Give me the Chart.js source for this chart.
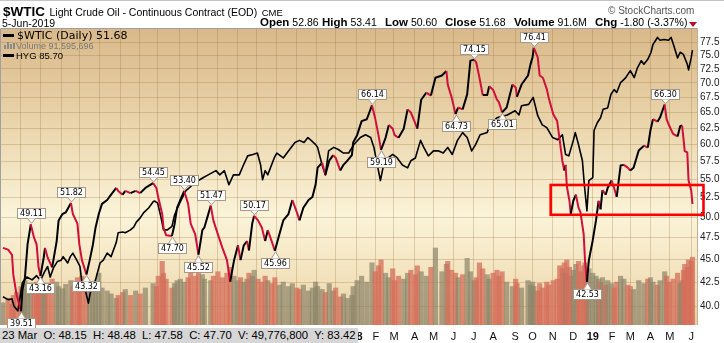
<!DOCTYPE html>
<html>
<head>
<meta charset="utf-8">
<title>$WTIC Light Crude Oil</title>
<script src="https://cdn.jsdelivr.net/npm/chart.js@4.4.1/dist/chart.umd.min.js"></script>
<style>
  body { margin: 0; background: #fff; }
  #wrap { position: relative; width: 724px; height: 343px; overflow: hidden; font-family: "Liberation Sans", Arial, sans-serif; color: #000; }
  #c { position: absolute; left: 0; top: 0; }
  .txt { position: absolute; white-space: pre; line-height: 1; }
  .q b { font-size: 11.5px; }
  .bar { position: absolute; bottom: 0; width: 2px; background: #8a8a8a; }
</style>
</head>
<body>
<div id="wrap">
  <canvas id="c" width="724" height="343"></canvas>
  <div style="position:absolute;left:0;top:0;width:724px;height:1px;background:#c4c4c4"></div>

  <!-- header -->
  <div class="txt" style="left:3px;top:3px;"><b style="font-size:13.5px">$WTIC</b> <span style="font-size:10.5px">Light Crude Oil - Continuous Contract (EOD)</span> <span style="font-size:9.5px">CME</span></div>
  <div class="txt" style="left:608px;top:6px;font-size:10px;color:#555;">© StockCharts.com</div>
  <div class="txt" style="left:2px;top:18px;font-size:10.5px;">5-Jun-2019</div>
  <div class="txt q" style="left:260px;top:17px;font-size:10.5px;"><b>Open</b> 52.86</div>
  <div class="txt q" style="left:322px;top:17px;font-size:10.5px;"><b>High</b> 53.41</div>
  <div class="txt q" style="left:385px;top:17px;font-size:10.5px;"><b>Low</b> 50.60</div>
  <div class="txt q" style="left:445px;top:17px;font-size:10.5px;"><b>Close</b> 51.68</div>
  <div class="txt q" style="left:514px;top:17px;font-size:10.5px;"><b>Volume</b> 91.6M</div>
  <div class="txt q" style="left:595px;top:17px;font-size:10.5px;"><b>Chg</b> -1.80 (-3.37%)</div>
  <div style="position:absolute;left:689px;top:22px;width:0;height:0;border-left:4px solid transparent;border-right:4px solid transparent;border-top:5px solid #b0102a;"></div>

  <!-- in-chart legend -->
  <div style="position:absolute;left:3px;top:34px;width:11px;height:3px;background:#000"></div>
  <div class="txt" style="left:17px;top:30px;font-family:'DejaVu Sans';font-size:11px;">$WTIC (Daily) 51.68</div>
  <div style="position:absolute;left:4px;top:42px;width:11px;height:7px;">
    <span class="bar" style="left:0;height:4px"></span><span class="bar" style="left:3px;height:7px"></span><span class="bar" style="left:6px;height:5px"></span><span class="bar" style="left:9px;height:6px"></span>
  </div>
  <div class="txt" style="left:16px;top:42px;font-size:9px;color:#777;">Volume 91,595,696</div>
  <div style="position:absolute;left:3px;top:54px;width:11px;height:3px;background:#000"></div>
  <div class="txt" style="left:16px;top:51px;font-size:9.5px;">HYG 85.70</div>

  <!-- hover readout strip -->
  <div class="txt" style="left:0;top:328px;width:356px;height:15px;line-height:15px;padding-left:2px;background:#d6d6d6;font-size:11.3px;">23 Mar  O: 48.15  H: 48.48  L: 47.58  C: 47.70  V: 49,776,800  Y: 83.42</div>
</div>

<script>
// WTIC closes (one row per month)
const wticDates = [
  '2016-07-05','2016-07-13','2016-07-19','2016-07-21','2016-07-26',
  '2016-08-02','2016-08-04','2016-08-08','2016-08-12','2016-08-17','2016-08-22','2016-08-26','2016-08-29',
  '2016-09-01','2016-09-06','2016-09-08','2016-09-12','2016-09-19','2016-09-26','2016-09-29',
  '2016-10-05','2016-10-10','2016-10-18','2016-10-21','2016-10-28','2016-10-31',
  '2016-11-04','2016-11-11','2016-11-16','2016-11-21','2016-11-25','2016-11-30',
  '2016-12-05','2016-12-13','2016-12-19','2016-12-27','2016-12-30',
  '2017-01-06','2017-01-10','2017-01-18','2017-01-26',
  '2017-02-02','2017-02-10','2017-02-22','2017-02-27',
  '2017-03-02','2017-03-08','2017-03-10','2017-03-14','2017-03-23','2017-03-27','2017-03-31',
  '2017-04-05','2017-04-11','2017-04-17','2017-04-21','2017-04-28',
  '2017-05-03','2017-05-09','2017-05-12','2017-05-22','2017-05-26',
  '2017-06-02','2017-06-09','2017-06-16','2017-06-21','2017-06-27',
  '2017-07-03','2017-07-07','2017-07-12','2017-07-17','2017-07-20','2017-07-25','2017-07-28',
  '2017-08-03','2017-08-09','2017-08-14','2017-08-18','2017-08-24','2017-08-29',
  '2017-09-05','2017-09-11','2017-09-19','2017-09-25',
  '2017-10-02','2017-10-06','2017-10-12','2017-10-20','2017-10-26','2017-10-31',
  '2017-11-03','2017-11-10','2017-11-15','2017-11-21','2017-11-27',
  '2017-12-01','2017-12-08','2017-12-13','2017-12-19','2017-12-26','2017-12-28',
  '2018-01-03','2018-01-10','2018-01-18','2018-01-26','2018-01-31',
  '2018-02-05','2018-02-09','2018-02-16','2018-02-21','2018-02-27',
  '2018-03-02','2018-03-08','2018-03-16','2018-03-22','2018-03-27',
  '2018-04-03','2018-04-06','2018-04-12','2018-04-20','2018-04-27',
  '2018-05-04','2018-05-14','2018-05-21','2018-05-23','2018-05-29',
  '2018-06-04','2018-06-08','2018-06-15','2018-06-22','2018-06-27',
  '2018-07-03','2018-07-06','2018-07-11','2018-07-16','2018-07-23','2018-07-26',
  '2018-08-01','2018-08-07','2018-08-10','2018-08-15','2018-08-22','2018-08-31',
  '2018-09-05','2018-09-07','2018-09-14','2018-09-24','2018-09-28',
  '2018-10-01','2018-10-03','2018-10-09','2018-10-12','2018-10-17','2018-10-23','2018-10-26',
  '2018-11-02','2018-11-08','2018-11-12','2018-11-16','2018-11-19','2018-11-21','2018-11-23','2018-11-27','2018-11-29',
  '2018-12-03','2018-12-07','2018-12-11','2018-12-14','2018-12-19','2018-12-21','2018-12-24','2018-12-27',
  '2019-01-02','2019-01-07','2019-01-11','2019-01-14','2019-01-17','2019-01-22','2019-01-25','2019-01-31',
  '2019-02-04','2019-02-08','2019-02-14','2019-02-19','2019-02-25',
  '2019-03-01','2019-03-06','2019-03-14','2019-03-22','2019-03-28',
  '2019-04-01','2019-04-05','2019-04-12','2019-04-16','2019-04-23','2019-04-26','2019-04-30',
  '2019-05-06','2019-05-13','2019-05-17','2019-05-20','2019-05-22','2019-05-24','2019-05-28','2019-05-30',
  '2019-06-03','2019-06-05'
];
const wticClose = [
  46.30, 46.10, 45.50, 43.30, 41.20,
  39.51, 41.60, 43.00, 46.70, 49.11, 47.50, 46.70, 44.10,
  43.16, 45.20, 46.30, 45.20, 44.10, 47.10, 49.60,
  50.40, 50.60, 51.82, 50.40, 49.20, 46.70,
  44.90, 43.32, 44.90, 46.70, 48.70, 50.40,
  51.70, 52.20, 52.90, 53.80, 53.40,
  52.90, 53.40, 53.10, 53.40,
  53.10, 53.80, 54.45, 53.80,
  52.50, 50.40, 48.70, 47.80, 47.70, 49.10, 51.20,
  52.20, 53.40, 51.70, 49.20, 47.90,
  45.52, 48.40, 48.70, 51.47, 49.60,
  47.90, 46.30, 44.90, 42.55, 44.90,
  46.60, 44.90, 46.60, 47.10, 46.00, 49.20, 50.17,
  49.60, 48.70, 47.10, 48.40, 47.10, 45.96,
  47.90, 49.60, 50.40, 52.20,
  50.60, 49.60, 51.20, 52.20, 52.60, 54.30,
  56.60, 57.30, 55.60, 57.60, 58.40,
  58.00, 56.20, 57.00, 57.60, 58.40, 60.30,
  61.40, 63.60, 63.90, 66.14, 64.00,
  61.40, 59.19, 61.00, 63.00, 62.40,
  61.40, 61.00, 62.40, 65.50, 65.00,
  63.20, 62.40, 67.10, 68.30, 67.80,
  70.90, 71.30, 72.10, 69.70, 67.50,
  64.73, 65.80, 65.50, 68.00, 74.00,
  74.15, 73.70, 70.90, 67.90, 67.90, 69.40,
  68.80, 67.10, 66.70, 65.01, 65.80, 69.70,
  69.20, 67.60, 69.70, 71.30, 73.40,
  74.60, 76.41, 74.60, 71.30, 70.90, 68.90, 67.40,
  64.70, 63.60, 60.60, 57.60, 56.20, 57.00, 54.00, 52.10, 50.40,
  52.10, 52.90, 51.20, 50.60, 47.90, 44.90, 42.53, 44.90,
  47.20, 49.60, 52.10, 51.00, 53.50, 52.90, 53.80, 54.80,
  53.80, 52.60, 56.90, 57.00, 56.60,
  56.20, 56.60, 59.10, 59.80, 59.50,
  62.10, 63.90, 63.50, 64.20, 66.30, 63.90, 62.90,
  61.60, 61.20, 62.80, 62.90, 61.00, 59.00, 58.80, 54.80,
  53.50, 51.68
];
// volume in millions, same dates as wticDates
const wticVolume = [
  30, 36, 28, 40, 44,
  52, 48, 60, 55, 50, 46, 58, 54,
  48, 44, 50, 56, 62, 58, 52,
  49, 55, 60, 52, 64, 58,
  66, 60, 54, 58, 50, 70,
  50, 46, 42, 36, 40,
  44, 48, 40, 46,
  42, 50, 56, 52,
  66, 86, 70, 62, 50, 56, 60,
  62, 58, 64, 70, 66,
  72, 68, 62, 60, 66,
  72, 64, 70, 78, 66,
  60, 64, 58, 62, 70, 66, 74,
  62, 58, 66, 60, 56, 64,
  54, 58, 52, 56,
  50, 48, 54, 46, 50, 58,
  52, 48, 44, 56, 46,
  50, 38, 42, 36, 40, 52,
  60, 66, 58, 84, 72,
  80, 88, 70, 64, 76,
  60, 66, 62, 70, 74,
  68, 80, 72, 66, 78,
  104, 72, 82, 86, 74,
  70, 64, 68, 90, 72,
  60, 64, 84, 76, 68, 62,
  70, 74, 66, 72, 58, 52,
  62, 56, 50, 60, 54,
  58, 52, 46, 56, 50, 58, 54,
  60, 62, 80, 76, 84, 70, 88, 78, 66,
  74, 82, 86, 72, 80, 84, 64, 76,
  70, 66, 62, 58, 64, 54, 60, 56,
  50, 58, 66, 62, 54,
  52, 48, 60, 56, 62,
  64, 58, 54, 60, 72, 66, 58,
  62, 70, 56, 60, 74, 82, 78, 88,
  86, 91.6
];

// HYG overlay (own hidden scale)
const hygDates = [
  '2016-07-05','2016-07-13','2016-07-19','2016-07-22','2016-07-28',
  '2016-08-04','2016-08-11','2016-08-19','2016-08-26',
  '2016-09-01','2016-09-07','2016-09-12','2016-09-16','2016-09-21','2016-09-27',
  '2016-10-03','2016-10-06','2016-10-13','2016-10-17','2016-10-21','2016-10-27',
  '2016-11-01','2016-11-04','2016-11-09','2016-11-14','2016-11-17','2016-11-25',
  '2016-12-02','2016-12-07','2016-12-13','2016-12-19','2016-12-27','2016-12-30',
  '2017-01-06','2017-01-10','2017-01-18','2017-01-23','2017-01-27',
  '2017-02-02','2017-02-07','2017-02-15','2017-02-22','2017-02-24',
  '2017-03-01','2017-03-06','2017-03-10','2017-03-16','2017-03-23','2017-03-27',
  '2017-04-03','2017-04-13','2017-04-24',
  '2017-05-03','2017-05-10','2017-05-18','2017-05-30',
  '2017-06-05','2017-06-12','2017-06-19','2017-06-26',
  '2017-07-05','2017-07-11','2017-07-18','2017-07-26',
  '2017-08-02','2017-08-07','2017-08-10','2017-08-14','2017-08-18','2017-08-28',
  '2017-09-01','2017-09-11','2017-09-19','2017-09-29',
  '2017-10-06','2017-10-13','2017-10-19','2017-10-24','2017-10-31',
  '2017-11-03','2017-11-10','2017-11-15','2017-11-20','2017-11-28',
  '2017-12-05','2017-12-13','2017-12-21','2017-12-29',
  '2018-01-08','2018-01-16','2018-01-24','2018-01-29',
  '2018-02-02','2018-02-08','2018-02-12','2018-02-20','2018-02-27',
  '2018-03-06','2018-03-14','2018-03-22','2018-03-27',
  '2018-04-03','2018-04-11','2018-04-16','2018-04-23',
  '2018-05-01','2018-05-09','2018-05-16','2018-05-23','2018-05-30',
  '2018-06-07','2018-06-15','2018-06-22','2018-06-29',
  '2018-07-05','2018-07-12','2018-07-23','2018-07-27',
  '2018-08-07','2018-08-15','2018-08-23',
  '2018-09-04','2018-09-10','2018-09-14','2018-09-25',
  '2018-10-02','2018-10-09','2018-10-16','2018-10-23',
  '2018-11-01','2018-11-09','2018-11-16','2018-11-21','2018-11-26',
  '2018-12-03','2018-12-06','2018-12-11','2018-12-17','2018-12-20','2018-12-24','2018-12-27',
  '2019-01-02','2019-01-04','2019-01-09','2019-01-14','2019-01-18','2019-01-25','2019-01-30',
  '2019-02-04','2019-02-08','2019-02-14','2019-02-22',
  '2019-03-01','2019-03-07','2019-03-12','2019-03-18','2019-03-22','2019-03-28',
  '2019-04-02','2019-04-05','2019-04-12','2019-04-16','2019-04-22','2019-04-29',
  '2019-05-03','2019-05-07','2019-05-13','2019-05-17','2019-05-22','2019-05-28','2019-05-30',
  '2019-06-03','2019-06-05'
];
const hygClose = [
  82.20, 82.16, 82.17, 82.07, 82.00,
  82.40, 82.48, 82.44, 82.50,
  82.43, 82.55, 82.63, 82.48, 82.61, 82.70,
  82.72, 82.77, 82.68, 82.77, 82.82, 82.72,
  82.63, 82.40, 82.30, 82.11, 82.26, 82.44,
  82.68, 82.72, 82.82, 82.77, 82.97, 83.11,
  83.12, 83.11, 83.15, 83.19, 83.26,
  83.32, 83.39, 83.46, 83.55, 83.56,
  83.53, 83.33, 83.15, 83.15, 83.20, 83.36,
  83.51, 83.70, 83.79,
  83.85, 83.89, 83.93, 83.99,
  83.93, 83.99, 83.79, 83.93,
  83.93, 84.06, 84.20, 84.22,
  84.24, 84.07, 83.86, 83.99, 83.93, 84.17,
  84.24, 84.17, 84.27, 84.39,
  84.42, 84.39, 84.46, 84.42, 84.36,
  84.32, 84.07, 83.93, 84.27, 84.32,
  84.29, 84.24, 84.24, 84.36,
  84.46, 84.50, 84.46, 84.32,
  84.13, 83.85, 84.03, 84.17, 84.22,
  84.17, 84.07, 84.03, 84.13,
  84.17, 84.42, 84.32, 84.20,
  84.27, 84.27, 84.24, 84.32, 84.22,
  84.42, 84.53, 84.46, 84.27,
  84.36, 84.50, 84.53, 84.64,
  84.74, 84.76, 84.78,
  84.84, 84.78, 84.91, 84.93,
  85.03, 84.77, 84.64, 84.60,
  84.46, 84.43, 84.50, 84.22, 84.20,
  84.42, 84.53, 84.36, 84.13, 83.79, 83.42, 83.85,
  83.89, 84.56, 84.67, 84.74, 84.86, 84.88, 85.07,
  85.14, 85.10, 85.24, 85.31,
  85.41, 85.31, 85.45, 85.55, 85.50, 85.57,
  85.67, 85.78, 85.88, 85.84, 85.85, 85.84,
  85.88, 85.77, 85.59, 85.67, 85.64, 85.50, 85.42,
  85.59, 85.70
];

// axis ticks
const monthTicks = [
  '2016-08-01','2016-09-01','2016-10-03','2016-11-01','2016-12-01',
  '2017-01-03','2017-02-01','2017-03-01','2017-04-03','2017-05-01','2017-06-01','2017-07-03','2017-08-01','2017-09-01','2017-10-02','2017-11-01','2017-12-01',
  '2018-01-02','2018-02-01','2018-03-01','2018-04-02','2018-05-01','2018-06-01','2018-07-02','2018-08-01','2018-09-04','2018-10-01','2018-11-01','2018-12-03',
  '2019-01-02','2019-02-01','2019-03-01','2019-04-01','2019-05-01','2019-06-03'
];
const monthLabels = [
  'A','S','O','N','D',
  '17','F','M','A','M','J','J','A','S','O','N','D',
  '18','F','M','A','M','J','J','A','S','O','N','D',
  '19','F','M','A','M','J'
];
const priceTicks = [40, 42.5, 45, 47.5, 50, 52.5, 55, 57.5, 60, 62.5, 65, 67.5, 70, 72.5, 75, 77.5];

// labelled highs and lows
const peakDates = ['2016-08-17','2016-10-18','2017-02-22','2017-04-11','2017-05-22','2017-07-28','2018-01-26','2018-07-03','2018-10-03','2019-04-23'];
const peakValues = [49.11, 51.82, 54.45, 53.40, 51.47, 50.17, 66.14, 74.15, 76.41, 66.30];
const troughDates = ['2016-08-02','2016-09-01','2016-11-11','2017-03-23','2017-05-03','2017-08-29','2018-02-09','2018-06-04','2018-08-15','2018-12-24'];
const troughValues = [39.51, 43.16, 43.32, 47.70, 45.52, 45.96, 59.19, 64.73, 65.01, 42.53];

// red box drawn on the chart
const boxDates = ['2018-10-29', '2019-06-22'];
const boxRange = [50.3, 54.2];

const RED = '#d0103a';
const ts = d => Date.parse(d);

const plotBg = {
  id: 'plotBg',
  beforeDraw(chart) {
    const { ctx, chartArea: a } = chart;
    const g = ctx.createLinearGradient(0, a.top, 0, a.bottom);
    g.addColorStop(0, '#d9b98a');
    g.addColorStop(0.3, '#e9d3a9');
    g.addColorStop(0.63, '#fbf4d9');
    g.addColorStop(0.85, '#f2e1bb');
    g.addColorStop(1, '#e8d0a4');
    ctx.save();
    ctx.fillStyle = g;
    ctx.fillRect(a.left, a.top, a.right - a.left, a.bottom - a.top);
    ctx.restore();
  }
};

const overlays = {
  id: 'overlays',
  afterDraw(chart) {
    const { ctx, chartArea: a, scales: { x, y } } = chart;
    ctx.save();

    // plot frame
    ctx.lineWidth = 1;
    ctx.strokeStyle = '#a0a0a0';
    ctx.beginPath();
    ctx.moveTo(a.left - 0.5, a.bottom); ctx.lineTo(a.left - 0.5, a.top - 0.5); ctx.lineTo(a.right + 0.5, a.top - 0.5);
    ctx.stroke();
    ctx.strokeStyle = '#c4b090';
    ctx.beginPath();
    ctx.moveTo(a.right + 0.5, a.top); ctx.lineTo(a.right + 0.5, a.bottom);
    ctx.stroke();

    // callouts
    ctx.font = '8px "DejaVu Sans"';
    ctx.textAlign = 'center';
    ctx.textBaseline = 'middle';
    const callout = (d, v, isPeak) => {
      const px = Math.round(x.getPixelForValue(ts(d)));
      const py = y.getPixelForValue(v);
      const label = v.toFixed(2);
      const w = Math.round(ctx.measureText(label).width) + 5;
      const h = 10;
      let left = Math.max(px - Math.round(w / 2), a.left + 2);
      const top = isPeak ? Math.round(py - 6 - h) : Math.round(py + 7);
      const base = isPeak ? top + h : top;
      const tip = isPeak ? py - 1 : py + 1;
      ctx.fillStyle = '#fff';
      ctx.strokeStyle = '#a89888';
      ctx.fillRect(left + 0.5, top + 0.5, w, h);
      ctx.strokeRect(left + 0.5, top + 0.5, w, h);
      ctx.beginPath();
      ctx.moveTo(px - 4 + 0.5, base + 0.5);
      ctx.lineTo(px + 0.5, tip);
      ctx.lineTo(px + 4 + 0.5, base + 0.5);
      ctx.closePath();
      ctx.fill();
      ctx.beginPath();
      ctx.moveTo(px - 4 + 0.5, base + 0.5);
      ctx.lineTo(px + 0.5, tip);
      ctx.lineTo(px + 4 + 0.5, base + 0.5);
      ctx.stroke();
      ctx.fillStyle = '#000';
      ctx.fillText(label, left + 0.5 + w / 2, top + 0.5 + h / 2 + 0.5);
    };
    peakDates.forEach((d, i) => callout(d, peakValues[i], true));
    troughDates.forEach((d, i) => callout(d, troughValues[i], false));

    // red highlight box
    const x0 = x.getPixelForValue(ts(boxDates[0]));
    const x1 = x.getPixelForValue(ts(boxDates[1]));
    const y0 = y.getPixelForValue(boxRange[1]);
    const y1 = y.getPixelForValue(boxRange[0]);
    ctx.strokeStyle = '#ff0000';
    ctx.lineWidth = 2.6;
    ctx.strokeRect(x0, y0, x1 - x0, y1 - y0);
    ctx.restore();
  }
};

const gridColor = 'rgba(150,110,55,0.28)';

new Chart(document.getElementById('c'), {
  type: 'line',
  data: {
    datasets: [
      {
        label: '$WTIC',
        data: wticDates.map((d, i) => ({ x: ts(d), y: wticClose[i] })),
        yAxisID: 'y',
        borderColor: '#000',
        borderWidth: 2,
        borderJoinStyle: 'round',
        pointRadius: 0,
        segment: { borderColor: c => c.p1.parsed.y < c.p0.parsed.y ? RED : '#000' },
        order: 0
      },
      {
        label: 'HYG',
        data: hygDates.map((d, i) => ({ x: ts(d), y: hygClose[i] })),
        yAxisID: 'yHyg',
        borderColor: '#000',
        borderWidth: 1.6,
        borderJoinStyle: 'round',
        pointRadius: 0,
        order: 1
      },
      {
        type: 'bar',
        label: 'Volume',
        data: wticDates.map((d, i) => ({ x: ts(d), y: wticVolume[i] })),
        yAxisID: 'yVol',
        barThickness: 4.5,
        backgroundColor: c => (c.dataIndex > 0 && wticClose[c.dataIndex] < wticClose[c.dataIndex - 1]) ? 'rgba(212,110,90,0.75)' : 'rgba(140,132,105,0.7)',
        order: 2
      }
    ]
  },
  options: {
    responsive: false,
    animation: false,
    devicePixelRatio: 1,
    layout: { padding: { top: 29, left: 1, right: 0, bottom: 0 } },
    plugins: { legend: { display: false }, tooltip: { enabled: false } },
    scales: {
      x: {
        type: 'linear',
        offset: false,
        min: ts('2016-07-02'),
        max: ts('2019-06-12'),
        afterBuildTicks: s => { s.ticks = monthTicks.map(d => ({ value: ts(d) })); },
        afterFit: s => { s.height = 18; },
        border: { display: false },
        grid: { color: gridColor, drawTicks: false, offset: false },
        ticks: {
          autoSkip: false,
          maxRotation: 0,
          padding: 5,
          color: '#111',
          font: c => ({ family: 'Liberation Sans', size: 11, weight: (monthLabels[c.index] || '').length > 1 ? 'bold' : 'normal' }),
          callback: (v, i) => monthLabels[i]
        }
      },
      y: {
        type: 'logarithmic',
        position: 'right',
        min: 38.17,
        max: 80.1,
        afterBuildTicks: s => { s.ticks = priceTicks.map(v => ({ value: v })); },
        afterFit: s => { s.width = 27; },
        border: { display: false },
        grid: { color: gridColor, drawTicks: false },
        ticks: {
          padding: 3,
          color: '#222',
          font: { family: 'Liberation Sans', size: 10 },
          callback: v => Number(v).toFixed(1)
        }
      },
      yHyg: { type: 'linear', display: false, min: 81.8, max: 86.0 },
      yVol: { type: 'linear', display: false, min: 0, max: 400 }
    }
  },
  plugins: [plotBg, overlays]
});
</script>
</body>
</html>
